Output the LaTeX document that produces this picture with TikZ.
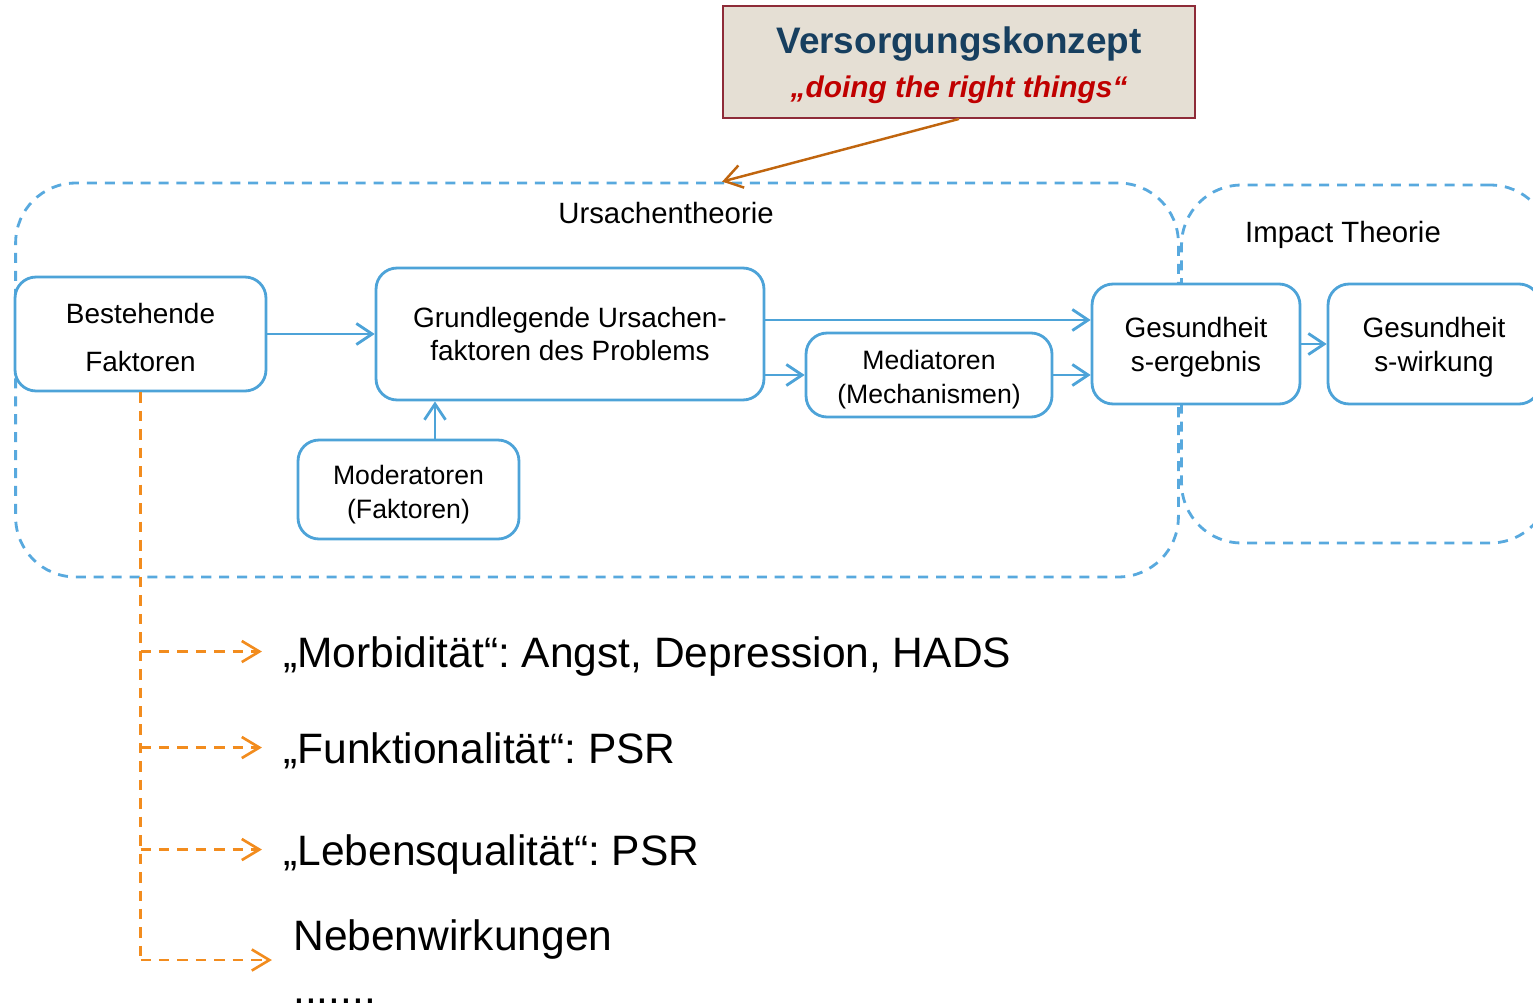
\documentclass[tikz,border=0pt]{standalone}
\usepackage{fontspec}
\setmainfont{Liberation Sans}
\frenchspacing
\usetikzlibrary{arrows.meta, positioning}
\definecolor{boxblue}{HTML}{4DA3D8}
\definecolor{zoneblue}{HTML}{58A9DE}
\definecolor{listorange}{HTML}{F28C1E}
\definecolor{pointerbrown}{HTML}{C0650E}
\definecolor{titleblue}{HTML}{173F5F}
\definecolor{titlered}{HTML}{C00000}
\definecolor{conceptfill}{HTML}{E5DFD4}
\definecolor{conceptdraw}{HTML}{8E2B38}
% Strebe in der ersten Zeile, schiebt den Text etwas nach unten
\newcommand\tief[1][15.6pt]{\rule{0pt}{#1}}
\tikzset{
    box/.style={
        draw=boxblue,
        line width=1.6pt,
        fill=white,
        rounded corners=0.42cm,
        align=center,
        inner sep=0pt,
        font=\fontsize{15.9}{19.3}\selectfont
    },
    small/.style={font=\fontsize{15.15}{19.3}\selectfont},
    zone/.style={
        draw=zoneblue,
        line width=1.6pt,
        dash pattern=on 5.7pt off 4.5pt,
        rounded corners=1.2cm,
        inner sep=0pt
    },
    zonetitle/.style={font=\fontsize{16.7}{20}\selectfont},
    flow/.style={
        draw=boxblue,
        line width=1.6pt,
        -{Straight Barb[length=9pt,width=12pt]}
    },
    branch/.style={
        draw=listorange,
        line width=1.5pt,
        dash pattern=on 6pt off 4.5pt
    },
    item/.style={
        anchor=base west,
        inner sep=0pt,
        font=\fontsize{24.2}{29}\selectfont
    },
    concept/.style={
        draw=conceptdraw,
        fill=conceptfill,
        line width=1.1pt,
        align=center,
        inner sep=0pt,
        font=\fontsize{21}{25.5}\selectfont\bfseries
    }
}

\begin{document}
\begin{tikzpicture}[x=0.02cm, y=-0.02cm]
	\useasboundingbox (0,0) rectangle (1533,1003);
	% Bereiche
	\node[zone, minimum width=23.26cm, minimum height=7.88cm] (ursache) at (597,380) {};
	\node[zone, minimum width=7.38cm, minimum height=7.16cm] (impact) at (1366,364) {};
	\node[zonetitle] at (666,213) {Ursachentheorie};
	\node[zonetitle] at (1343,235) {Impact Theorie};
	% Kasten oben
	\node[concept, minimum width=9.44cm, minimum height=2.24cm] (konzept) at (959,62)
		{\tief[19pt]\textcolor{titleblue}{Versorgungskonzept}\\
		 \textcolor{titlered}{\fontsize{17}{25.5}\selectfont\itshape „doing the right things“}};
	\draw[pointerbrown, line width=1.4pt, -{Straight Barb[length=10pt,width=13pt]}]
		(konzept.south) -- (ursache.north -| konzept.south west);
	% Modell
	\node[box, minimum width=5.02cm, minimum height=2.28cm] (best) at (140.5,334) {\tief Bestehende\\[8.5pt]Faktoren};
	\node[box, minimum width=7.76cm, minimum height=2.64cm] (grund) at (570,334) {Grundlegende Ursachen-\\faktoren des Problems};
	\node[box, small, minimum width=4.42cm, minimum height=1.98cm] (moder) at (408.5,489.5) {\tief[16.5pt]Moderatoren\\(Faktoren)};
	\node[box, small, minimum width=4.92cm, minimum height=1.68cm] (media) at (929,375) {\tief[16pt]Mediatoren\\(Mechanismen)};
	\node[box, minimum width=4.16cm, minimum height=2.4cm] (ergeb) at (1196,344) {\tief Gesundheit\\s-ergebnis};
	\node[box, minimum width=4.24cm, minimum height=2.4cm] (wirk) at (1434,344) {\tief Gesundheit\\s-wirkung};
	\draw[flow] (best.east) -- (grund.west);
	\draw[flow] ([xshift=0.53cm]moder.north) -- ([xshift=0.53cm]moder.north |- grund.south);
	\draw[flow] ([yshift=0.28cm]grund.east) -- ([yshift=0.28cm]grund.east -| ergeb.west);
	\draw[flow] (grund.east |- media.west) -- (media.west);
	\draw[flow] (media.east) -- (media.east -| ergeb.west);
	\draw[flow] (ergeb.east) -- (wirk.west);
	% Ergebnisse
	\node[item] (morb) at (283,667) {„Morbidität“: Angst, Depression, HADS};
	\node[item] (funk) at (283,763) {„Funktionalität“: PSR};
	\node[item] (leben) at (283,865) {„Lebensqualität“: PSR};
	\node[item] (neben) at (293,950) {Nebenwirkungen};
	\node[item] (rest) at (293,1003) {.......};
	\coordinate (nebenende) at ([yshift=-5.7pt]neben.base west);
	\draw[branch] (best.south) -- (best.south |- nebenende);
	\foreach \ziel in {morb, funk, leben}
		\draw[branch, -{Straight Barb[length=10pt,width=12pt]}]
			([yshift=8.8pt]best.south |- \ziel.base west) -- ([yshift=8.8pt,xshift=-12pt]\ziel.base west);
	\draw[branch, -{Straight Barb[length=10pt,width=12pt]}]
		(best.south |- nebenende) -- ([xshift=-12pt]nebenende);
\end{tikzpicture}
\end{document}
